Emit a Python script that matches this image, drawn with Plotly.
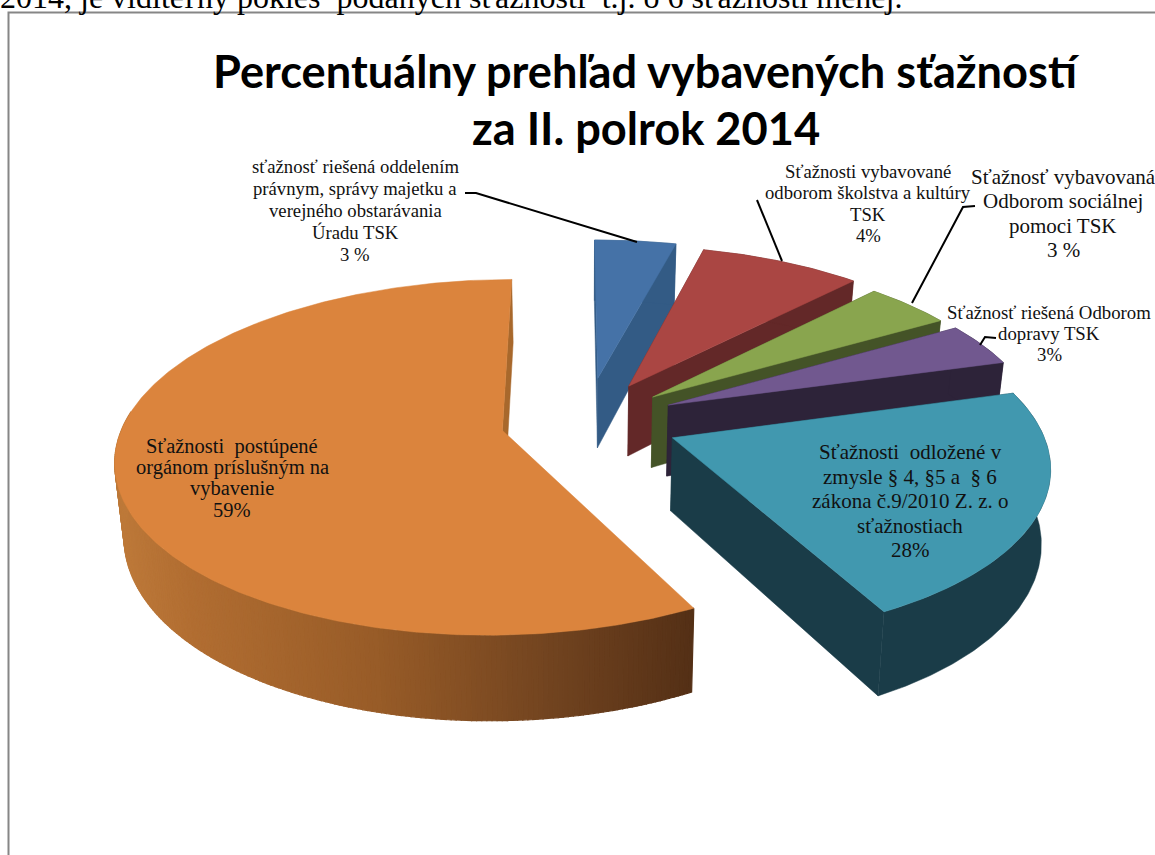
import math
import plotly.graph_objects as go

# Slice shares as drawn in the picture (clockwise from the back of the pie)
slice_names = ["právne", "školstvo", "sociálna", "doprava", "odložené", "postúpené"]
slice_shares = [4.1, 8.1, 4.4, 4.1, 21.7, 57.6]
slice_pull = [0.26, 0.24, 0.23, 0.24, 0.245, 0.226]
slice_radius = [1.0, 1.0, 0.985, 0.98, 0.97, 1.0]
top_colors = ["#4572A7", "#AA4643", "#89A54E", "#71588F", "#4198AF", "#DB843D"]
wall_colors = ["#335B85", "#632828", "#445327", "#2D2339", "#1A3C48", None]

label_lines = [
    ["sťažnosť riešená oddelením", "právnym, správy majetku a", "verejného obstarávania", "Úradu TSK", "3 %"],
    ["Sťažnosti vybavované", "odborom školstva a kultúry", "TSK", "4%"],
    ["Sťažnosť vybavovaná", "Odborom sociálnej", "pomoci TSK", "3 %"],
    ["Sťažnosť riešená Odborom", "dopravy TSK", "3%"],
    ["Sťažnosti  odložené v", "zmysle § 4, §5 a  § 6", "zákona č.9/2010 Z. z. o", "sťažnostiach", "28%"],
    ["Sťažnosti  postúpené", "orgánom príslušným na", "vybavenie", "59%"],
]
label_x = [355, 868, 1063, 1049, 910, 232]
label_first_y = [166, 171, 177, 312, 452, 446]
label_step = [22, 21.5, 24.3, 21, 24.5, 21.3]
label_size = [18.7, 18.7, 21, 18.8, 21, 20.5]

title_lines = ["Percentuálny prehľad vybavených sťažností", "za II. polrok 2014"]
title_y = [70, 127]
page_line = "2014, je viditeľný pokles  podaných sťažností  t.j. o 6 sťažností menej."

leader_lines = [
    [(465, 193), (476, 193), (637, 242)],
    [(757, 200), (782, 261)],
    [(975, 206), (963, 207), (912, 303)],
    [(996, 338), (985, 337), (980, 345)],
]

CX, CY, RX, RY, PERSP, DEPTH, BOTTOM_SHRINK = 586, 421, 378, 171, 0.15, 72, 0.98
FIRST_ANGLE = -0.3


def project(X, Y, bottom=False):
    s = 1 / (1 - PERSP * Y)
    px = CX + RX * X * s
    py = CY + RY * Y * s
    if bottom:
        py += DEPTH * s
        px = CX + (px - CX) * BOTTOM_SHRINK
    return px, py


def wedge(start, end, pull, radius):
    mid = math.radians((start + end) / 2)
    ax, ay = pull * math.sin(mid), -pull * math.cos(mid)
    n = max(2, int((end - start) * 1.5))
    rim = []
    for i in range(n + 1):
        t = math.radians(start + (end - start) * i / n)
        rim.append((ax + radius * math.sin(t), ay - radius * math.cos(t)))
    return (ax, ay), rim


def band(points):
    top = [project(*p) for p in points]
    low = [project(*p, bottom=True) for p in reversed(points)]
    loop = top + low + top[:1]
    return [p[0] for p in loop], [p[1] for p in loop]


def ramp(t):
    stops = [(0.0, (190, 122, 58)), (0.12, (178, 110, 50)), (0.45, (152, 92, 40)),
             (0.75, (114, 68, 32)), (1.0, (84, 48, 22))]
    for (t0, c0), (t1, c1) in zip(stops, stops[1:]):
        if t <= t1:
            f = (t - t0) / (t1 - t0)
            return "rgb(%d,%d,%d)" % tuple(c0[k] + (c1[k] - c0[k]) * f for k in range(3))
    return "rgb(84,48,22)"


fig = go.Figure()


def add_fill(xs, ys, color, width=0.5):
    fig.add_trace(go.Scatter(x=xs, y=ys, mode="lines", fill="toself", fillcolor=color,
                             line=dict(color=color, width=width), hoverinfo="skip", showlegend=False))


total = sum(slice_shares)
angle = FIRST_ANGLE
for name, share, pull, radius, top, wall in zip(slice_names, slice_shares, slice_pull, slice_radius,
                                                top_colors, wall_colors):
    start, end = angle, angle + 360 * share / total
    angle = end
    apex, rim = wedge(start, end, pull, radius)
    if wall is not None:
        for pts in ([apex, rim[0]], [apex, rim[-1]], rim):
            add_fill(*band(pts), wall)
    else:
        # graded outer wall: left side of the pie towards the cut edge
        add_fill(*band([apex, rim[-1]]), "#A8682C")
        front = [(a, b) for a, b in zip(rim, rim[1:]) if a[1] > -0.05 or b[1] > -0.05]
        xmin = min(project(*p)[0] for pair in front for p in pair)
        xmax = max(project(*p)[0] for pair in front for p in pair)
        for a, b in front:
            mx = (project(*a)[0] + project(*b)[0]) / 2
            add_fill(*band([a, b]), ramp((mx - xmin) / (xmax - xmin)), width=1.2)
    outline = [apex] + rim + [apex]
    add_fill([project(*p)[0] for p in outline], [project(*p)[1] for p in outline], top)

for pts in leader_lines:
    fig.add_trace(go.Scatter(x=[p[0] for p in pts], y=[p[1] for p in pts], mode="lines",
                             line=dict(color="black", width=2), hoverinfo="skip", showlegend=False))

annotations = []
for lines, x, y0, step, size in zip(label_lines, label_x, label_first_y, label_step, label_size):
    for i, text in enumerate(lines):
        annotations.append(dict(x=x, y=y0 + i * step, text=text, showarrow=False, xanchor="center",
                                yanchor="middle", align="center",
                                font=dict(family="Liberation Serif", size=size, color="#111111")))
for text, y in zip(title_lines, title_y):
    annotations.append(dict(x=646, y=y, text="<b>" + text + "</b>", showarrow=False, xanchor="center",
                            yanchor="middle", font=dict(family="Lato", size=45.2, color="black")))
annotations.append(dict(xref="paper", yref="paper", x=0, y=1, text=page_line, showarrow=False,
                        xanchor="left", yanchor="middle", yshift=3, xshift=-2,
                        font=dict(family="Liberation Serif", size=32, color="black")))

fig.update_layout(
    width=1155, height=855, autosize=False,
    margin=dict(l=0, r=0, t=0, b=0),
    paper_bgcolor="white", plot_bgcolor="white", showlegend=False,
    xaxis=dict(range=[0, 1155], visible=False, fixedrange=True),
    yaxis=dict(range=[855, 0], visible=False, fixedrange=True),
    annotations=annotations,
    shapes=[dict(type="rect", x0=8.5, y0=12.5, x1=1300, y1=1000, line=dict(color="#868686", width=2),
                 fillcolor="rgba(0,0,0,0)", layer="below")],
)
fig.write_html("out.html", config={"displayModeBar": False},
               post_script="document.body.style.margin='0';document.documentElement.style.overflow='hidden';")
